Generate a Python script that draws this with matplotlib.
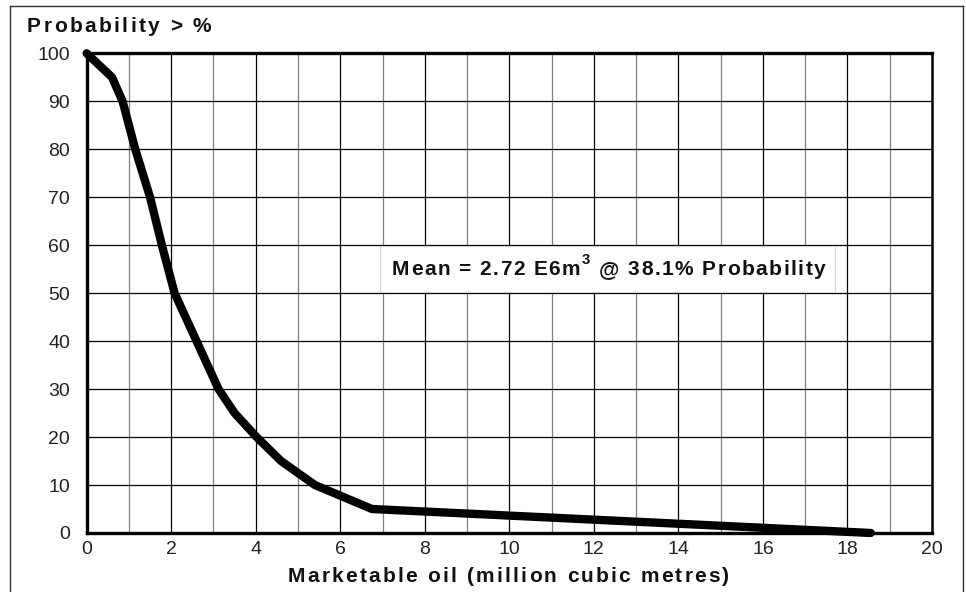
import matplotlib.pyplot as plt
from matplotlib.lines import Line2D
from matplotlib.patches import Rectangle
from matplotlib.transforms import offset_copy

plt.rcParams['font.family'] = ['Liberation Sans', 'DejaVu Sans']

# Exceedance curve
oil_volume = [0.0, 0.6, 0.85, 1.15, 1.5, 1.78, 2.08, 2.6, 3.12, 3.5, 4.02, 4.6, 5.4, 6.75, 18.55]
prob_exceed = [100, 95, 90, 80, 70, 60, 50, 40, 30, 25, 20, 15, 10, 5, 0]

x_ticks = list(range(0, 21, 2))
y_ticks = list(range(0, 101, 10))
title_text = "Probability > %"
xlabel_text = "Marketable oil (million cubic metres)"
mean_parts = [("Mean = 2.72 E6m", 0), ("3", 1), (" @ 38.1% Probability", 0)]

DPI = 100
fig = plt.figure(figsize=(9.66, 5.92), dpi=DPI)
ax = fig.add_axes([0.0897, 0.0997, 0.8751, 0.8103])
renderer = fig.canvas.get_renderer()


def text_width(s, size):
    t = fig.text(0, 0, s + "|", fontsize=size, fontweight='bold')
    t2 = fig.text(0, 0, "|", fontsize=size, fontweight='bold')
    w = t.get_window_extent(renderer).width - t2.get_window_extent(renderer).width
    t.remove()
    t2.remove()
    return w


def spaced_text(x, y, parts, size, gap, transform, ha='center'):
    # draws bold text with extra letter spacing (pixels), parts = [(str, superscript?)]
    chars = []
    for s, sup in parts:
        for c in s:
            chars.append((c, sup))
    xs = []
    pos = 0.0
    for c, sup in chars:
        sz = size * 0.72 if sup else size
        xs.append(pos)
        pos += text_width(c, sz) + gap
    total = pos - gap
    start = -total / 2 if ha == 'center' else 0.0
    for (c, sup), px in zip(chars, xs):
        sz = size * 0.72 if sup else size
        dy = size * 0.45 if sup else 0
        tr = offset_copy(transform, fig=fig, x=(start + px) * 72 / DPI, y=dy, units='points')
        fig.text(x, y, c, fontsize=sz, fontweight='bold', color='#111111',
                 ha='left', va='center', transform=tr, zorder=5)


# grid: odd x lines grey, even x lines black, y lines black
for xv in range(1, 20):
    col = 'black' if xv % 2 == 0 else '#808080'
    ax.axvline(xv, color=col, lw=0.9, zorder=1)
for yv in y_ticks[1:-1]:
    ax.axhline(yv, color='black', lw=0.9, zorder=1)

# white label box covering the grid
ax.add_patch(Rectangle((6.93, 50.2), 10.77, 9.6, facecolor='white',
                       edgecolor='#d0d0d0', lw=0.6, zorder=2))

ax.plot(oil_volume, prob_exceed, color='black', lw=6, solid_capstyle='round',
        solid_joinstyle='round', clip_on=False, zorder=4)

ax.set_xlim(0, 20)
ax.set_ylim(0, 100)
ax.set_xticks(x_ticks)
ax.set_yticks(y_ticks)
ax.tick_params(length=0, labelsize=14, labelcolor='#222222')
ax.tick_params(axis='y', pad=12)
ax.tick_params(axis='x', pad=6)
for side in ['left', 'bottom', 'top']:
    ax.spines[side].set_linewidth(2.4)
ax.spines['right'].set_linewidth(1.8)

# labels with letter spacing
spaced_text(12.35, 55, mean_parts, 15, 1.5, ax.transData)
spaced_text(0.5265, 0.026, [(xlabel_text, 0)], 15, 2.2, fig.transFigure)
spaced_text(0.028, 0.955, [(title_text, 0)], 15, 2.4, fig.transFigure, ha='left')

# outer frame (open at the bottom)
fc = '#333333'
fig.add_artist(Line2D([0.0105, 0.0105], [0.0, 0.99], transform=fig.transFigure, color=fc, lw=1))
fig.add_artist(Line2D([0.0105, 0.9965], [0.99, 0.99], transform=fig.transFigure, color=fc, lw=1))
fig.add_artist(Line2D([0.9965, 0.9965], [0.0, 0.99], transform=fig.transFigure, color=fc, lw=1))

fig.savefig("out.png", dpi=DPI)
